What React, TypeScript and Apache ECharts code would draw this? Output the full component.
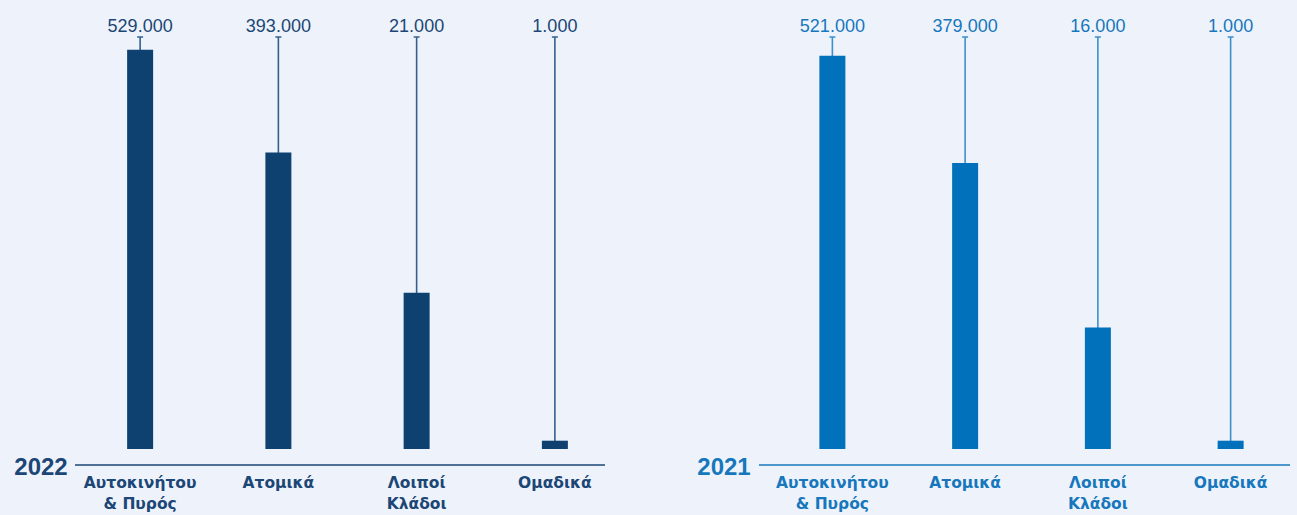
import React, { useEffect, useRef } from "react";
import * as echarts from "echarts";

const categories = ["Αυτοκινήτου\n& Πυρός", "Ατομικά", "Λοιποί\nΚλάδοι", "Ομαδικά"];
const labels2022 = ["529.000", "393.000", "21.000", "1.000"];
const labels2021 = ["521.000", "379.000", "16.000", "1.000"];
// bar heights as drawn in the picture (not proportional for small values)
const bars2022 = [529, 393, 207, 11];
const bars2021 = [521, 379, 161, 11];
const Y_MAX = 546;

const years = ["2022", "2021"];

const DARK = "#0f4170";
const DARK_TEXT = "#1b4675";
const DARK_STEM = "#33608c";
const BLUE = "#0071ba";
const BLUE_TEXT = "#1777bd";
const BLUE_STEM = "#3b8fcc";

export default function App() {
  const ref = useRef<HTMLDivElement>(null);
  useEffect(() => {
    document.body.style.margin = "0";
    const chart = echarts.init(ref.current!, null, { renderer: "svg" });
    const font = "Liberation Sans, Arial, sans-serif";
    const catFont = "DejaVu Sans, sans-serif";
    const stem = categories.map(() => Y_MAX);
    const panels = [
      { bars: bars2022, labels: labels2022, color: DARK, text: DARK_TEXT, stemC: DARK_STEM },
      { bars: bars2021, labels: labels2021, color: BLUE, text: BLUE_TEXT, stemC: BLUE_STEM },
    ];
    const grids = [
      { left: 71, width: 553, top: 37, height: 412 },
      { left: 766, width: 553, top: 37, height: 412 },
    ];
    const series: any[] = [];
    panels.forEach((p, i) => {
      series.push({
        type: "pictorialBar",
        xAxisIndex: i,
        yAxisIndex: i,
        data: stem,
        barWidth: 26,
        barGap: "-100%",
        symbol: "rect",
        symbolSize: [1.5, "100%"],
        symbolPosition: "start",
        itemStyle: { color: p.stemC },
        z: 1,
        silent: true,
      });
      series.push({
        type: "bar",
        xAxisIndex: i,
        yAxisIndex: i,
        data: p.bars,
        barWidth: 26,
        barGap: "-100%",
        itemStyle: { color: p.color },
        z: 2,
      });
      series.push({
        type: "scatter",
        xAxisIndex: i,
        yAxisIndex: i,
        data: stem,
        symbol: "rect",
        symbolSize: [6, 1.5],
        itemStyle: { color: p.stemC, opacity: 1 },
        z: 3,
        label: {
          show: true,
          position: "top",
          distance: 1,
          formatter: (d: any) => p.labels[d.dataIndex],
          color: p.text,
          opacity: 1,
          fontSize: 18,
          fontFamily: font,
        },
      });
    });
    chart.setOption({
      animation: false,
      backgroundColor: "#eef3fb",
      grid: grids,
      xAxis: panels.map((p, i) => ({
        type: "category",
        gridIndex: i,
        data: categories,
        axisLine: { show: false },
        axisTick: { show: false },
        axisLabel: {
          color: p.text,
          fontWeight: "bold",
          fontSize: 15.5,
          lineHeight: 21,
          margin: 23,
          fontFamily: catFont,
          interval: 0,
        },
      })),
      yAxis: panels.map((p, i) => ({
        type: "value",
        gridIndex: i,
        min: 0,
        max: Y_MAX,
        show: false,
      })),
      series,
      graphic: [
        { type: "line", shape: { x1: 75, y1: 465, x2: 605, y2: 465 }, style: { stroke: DARK_TEXT, lineWidth: 1.5 } },
        { type: "line", shape: { x1: 759, y1: 465, x2: 1290, y2: 465 }, style: { stroke: BLUE_TEXT, lineWidth: 1.5 } },
        {
          type: "text", x: 41, y: 466,
          style: { text: years[0], fill: DARK_TEXT, font: `bold 24px ${font}`, align: "center", verticalAlign: "middle" },
        },
        {
          type: "text", x: 724, y: 466,
          style: { text: years[1], fill: BLUE_TEXT, font: `bold 24px ${font}`, align: "center", verticalAlign: "middle" },
        },
      ],
    });
    return () => chart.dispose();
  }, []);
  return <div ref={ref} style={{ width: 1297, height: 515 }} />;
}
